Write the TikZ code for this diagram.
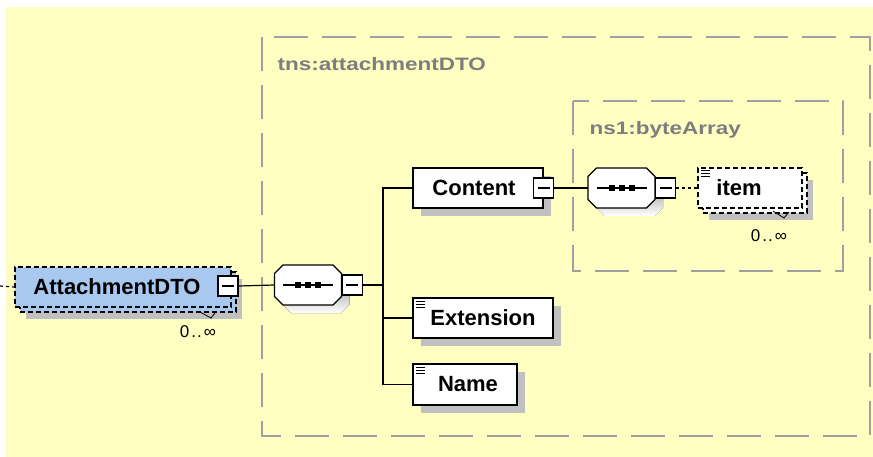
\documentclass[tikz,border=0pt]{standalone}
\usepackage{fontspec}
\setmainfont{Liberation Sans}
\newfontfamily\widefont[FakeStretch=1.25]{Liberation Sans}
\usetikzlibrary{shadows}
\definecolor{paper}{RGB}{255,255,194}
\definecolor{framegray}{RGB}{160,160,160}
\definecolor{titlegray}{RGB}{125,125,125}
\definecolor{typeblue}{RGB}{168,200,240}
\definecolor{shade}{RGB}{192,192,192}
\newcommand\octagonpath{(-25,-20) -- (25,-20) -- (33.5,-11.5) -- (33.5,11.5) -- (25,20)
  -- (-25,20) -- (-33.5,11.5) -- (-33.5,-11.5) -- cycle}
\tikzset{
  elem/.style={draw, line width=1.4pt, inner sep=0pt, minimum height=40pt,
    font=\fontsize{22}{24}\selectfont\bfseries},
  single/.style={elem, fill=white,
    general shadow={shadow xshift=8pt, shadow yshift=-8pt, fill=shade}},
  many/.style={elem, fill=#1, dash pattern=on 5pt off 3pt,
    general shadow={shadow xshift=11pt, shadow yshift=-12pt, fill=shade},
    general shadow={shadow xshift=5pt, shadow yshift=-5pt, fill=#1, draw, line width=1.4pt}},
  many/.default=white,
  simple/.style={path picture={\foreach \dy in {3,6,9}
    \draw[solid, line width=1pt] ([shift={(3pt,-\dy pt)}]path picture bounding box.north west) -- ++(9pt,0pt);}},
  seq/.style={minimum width=67pt, minimum height=40pt, inner sep=0pt},
  minus/.style={draw, line width=1.2pt, fill=white, minimum size=20pt, inner sep=0pt,
    path picture={\draw[solid, line width=1.2pt] ([xshift=-6pt]path picture bounding box.center) -- ++(12pt,0pt);}},
  groupframe/.style={draw=framegray, line width=2pt, dash pattern=on 34pt off 14pt},
  title/.style={anchor=west, text=titlegray, font=\widefont\fontsize{18}{20}\selectfont\bfseries},
  card/.style={font=\fontsize{17}{19}\selectfont},
  wire/.style={line width=1.2pt}
}
\begin{document}
\begin{tikzpicture}[x=1pt, y=-1pt]
  \useasboundingbox (0,0) rectangle (873,457);
  \fill[white] (0,0) rectangle (873,457);
  \fill[paper] (6,7) rectangle (873,457);
  % groups
  \draw[groupframe] (262,37) rectangle (870,436);
  \node[title] (tnsname) at (274,64) {tns:attachmentDTO};
  \draw[groupframe] (573,101) rectangle (843,271);
  \node[title] (ns1name) at (586,130) {ns1:byteArray};
  % elements
  \node[many=typeblue, minimum width=216pt] (attach) at (123,287) {AttachmentDTO\hspace*{12pt}};
  \node[minus] (attachminus) at (228,286) {};
  \node[card] (attachcard) at (198,332) {0\kern2pt.\kern1pt.\kern2pt∞};
  \coordinate (entry) at (0,286);
  \node[seq] (seqA) at (308,285) {};
  \node[seq] (seqB) at (621.5,188) {};
  \foreach \s in {seqA,seqB} {
    \fill[shade, shift={(\s.center)}, shift={(8,8)}] \octagonpath;
    \filldraw[fill=white, line width=1.4pt, shift={(\s.center)}] \octagonpath;
    \draw[wire, shift={(\s.center)}] (-25,0) -- (25,0);
    \foreach \dx in {-10,0,10}
      \fill[shift={(\s.center)}] (\dx-3,-3) rectangle (\dx+3,3);
  }
  \node[minus, anchor=west] (seqAminus) at (seqA.east) {};
  \node[minus, anchor=west] (seqBminus) at (seqB.east) {};
  \coordinate (fork) at (383,285);
  \node[single, minimum width=130pt] (content) at (478,188) {Content\hspace*{8pt}};
  \node[minus] (contentminus) at (content.east) {};
  \node[many, simple, minimum width=104pt] (item) at (750,188) {item\hspace*{22pt}};
  \node[card] (itemcard) at (769,236) {0\kern2pt.\kern1pt.\kern2pt∞};
  \node[single, simple, minimum width=140pt] (extension) at (483,318) {Extension};
  \node[single, simple, minimum width=104pt, minimum height=41pt] (name) at (465,384.5) {\hspace*{6pt}Name};
  % connectors
  \draw[wire, dashed] (entry) -- (attach.west);
  \draw[wire] (attachminus.east) -- (seqA.west);
  \draw[wire] (seqAminus.east) -- (fork);
  \draw[wire] (fork) |- (content.west) (fork) |- (extension.west) (fork) |- (name.west);
  \draw[wire] (contentminus.east) -- (seqB.west);
  \draw[wire, dashed] (seqBminus.east) -- (item.west);
  \draw[line width=0.8pt] (attachcard.center) ++(2,-20) -- ++(11,6) -- ++(4,-5);
  \draw[line width=0.8pt] (itemcard.center) ++(4,-25) -- ++(11,7) -- ++(5,-6);
\end{tikzpicture}
\end{document}
